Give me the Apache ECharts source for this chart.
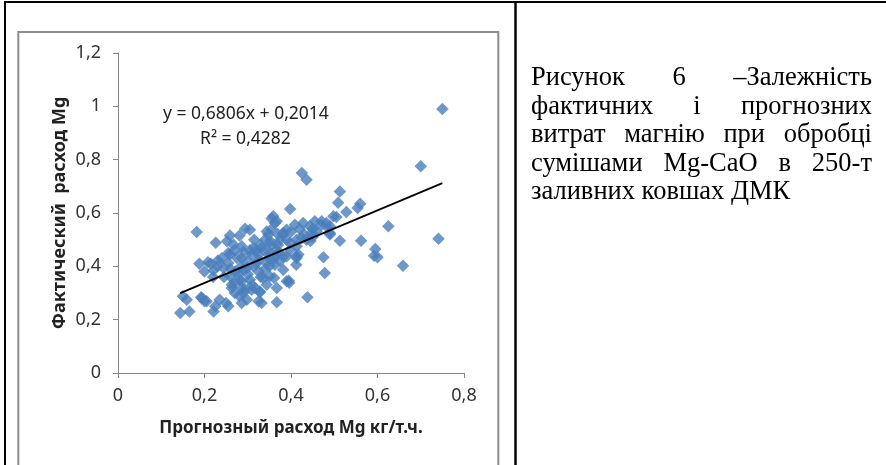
<!DOCTYPE html>
<html>
<head>
<meta charset="utf-8">
<script src="https://cdn.jsdelivr.net/npm/echarts@6/dist/echarts.min.js"></script>
<style>
html,body{margin:0;padding:0;background:#fff;}
#chart{position:absolute;left:0;top:0;width:886px;height:465px;}
#caption{position:absolute;left:531px;top:62px;width:341px;font-family:"Liberation Serif","Times New Roman",serif;font-size:26.5px;line-height:28.5px;color:#000;z-index:5;}
#caption div{text-align:justify;text-align-last:justify;white-space:nowrap;}
#caption div.last{text-align:left;text-align-last:left;}
</style>
</head>
<body>
<div id="chart"></div>
<div id="caption"></div>
<script>
// ---- data ----
const captionLines = [
  "Рисунок 6 –Залежність",
  "фактичних і прогнозних",
  "витрат магнію при обробці",
  "сумішами Mg-CaO в 250-т",
  "заливних ковшах ДМК"
];
const xAxisTitle = "Прогнозный расход Mg кг/т.ч.";
const yAxisTitle = "Фактический  расход Mg";
const equationText = "y = 0,6806x + 0,2014";
const r2Text = "R² = 0,4282";
const trendCoef = [0.6806, 0.2014];   // slope, intercept
const trendRangeX = [0.144, 0.75];
const xTicks = [0, 0.2, 0.4, 0.6, 0.8];
const yTicks = [0, 0.2, 0.4, 0.6, 0.8, 1, 1.2];

// predicted (x) and actual (y) Mg consumption
const predicted = [
  0.75,0.70,0.741,0.659,0.625,0.595,0.592,0.60,0.562,0.56,
  0.554,0.528,0.513,0.509,0.513,0.498,0.505,0.49,0.475,0.478,
  0.438,0.425,0.436,0.398,0.413,0.412,0.395,0.396,0.367,0.332,
  0.328,0.286,0.25,0.235,0.221,0.20,0.192,0.165,0.144,0.15,
  0.159,0.182,0.188,0.226,0.259,0.281,0.294,0.305,0.315,0.355,
  0.363,0.267,0.286,0.208,0.231,0.255,0.20,0.221,0.244,0.255,
  0.275,0.271,0.29,0.313,0.325,0.344,0.352,0.344,0.282,0.305,
  0.263,0.286,0.309,0.328,0.351,0.298,0.325,0.367,0.194,0.205,
  0.225,0.255,0.417,0.361,0.444,0.471,0.482,0.486,0.459,0.428,
  0.409,0.39,0.382,0.413,0.436,0.359,0.375,0.398,0.367,0.382,
  0.359,0.413,0.367,0.348,0.382,0.455,0.425,0.448,0.355,0.332,
  0.313,0.259,0.286,0.309,0.325,0.348,0.371,0.39,0.413,0.398,
  0.344,0.363,0.382,0.298,0.325,0.279,0.259,0.286,0.336,0.344,
  0.39,0.317,0.294,0.263,0.252,0.45,0.47,0.49,0.45,0.445,
  0.49,0.24,0.27,0.30,0.32,0.30,0.27,0.31,0.34,0.36,
  0.37,0.34,0.33,0.29,0.27,0.23,0.22,0.215,0.29,0.355,
  0.39,0.40,0.42,0.43,0.37,0.35,0.32,0.305,0.285,0.26,
  0.245,0.28,0.35,0.375,0.33
];
const actual = [
  0.99,0.775,0.503,0.402,0.55,0.465,0.44,0.434,0.496,0.635,
  0.619,0.604,0.681,0.638,0.496,0.588,0.585,0.519,0.434,0.375,
  0.284,0.75,0.725,0.615,0.4375,0.406,0.346,0.338,0.265,0.2625,
  0.3025,0.2625,0.2625,0.275,0.231,0.269,0.284,0.231,0.225,0.2875,
  0.275,0.529,0.41,0.488,0.516,0.516,0.541,0.5375,0.50,0.579,
  0.5625,0.481,0.475,0.415,0.422,0.4125,0.381,0.385,0.394,0.45,
  0.431,0.381,0.3875,0.40,0.444,0.4625,0.494,0.531,0.35,0.35,
  0.319,0.319,0.3125,0.306,0.3625,0.275,0.269,0.319,0.281,0.269,
  0.25,0.25,0.444,0.356,0.55,0.569,0.5625,0.544,0.531,0.5625,
  0.556,0.5375,0.519,0.50,0.50,0.5875,0.50,0.4875,0.4625,0.4375,
  0.425,0.475,0.569,0.519,0.525,0.569,0.506,0.525,0.481,0.469,
  0.469,0.444,0.431,0.444,0.425,0.444,0.45,0.4375,0.431,0.4625,
  0.4125,0.406,0.3875,0.394,0.381,0.375,0.3625,0.344,0.356,0.331,
  0.344,0.319,0.3125,0.331,0.494,0.54,0.555,0.55,0.51,0.495,
  0.525,0.43,0.46,0.42,0.46,0.37,0.34,0.33,0.39,0.44,
  0.52,0.50,0.48,0.30,0.30,0.40,0.36,0.41,0.455,0.54,
  0.50,0.53,0.54,0.52,0.48,0.43,0.41,0.46,0.40,0.39,
  0.36,0.29,0.40,0.42,0.36
];

// ---- caption ----
const cap = document.getElementById('caption');
captionLines.forEach((t, i) => {
  const d = document.createElement('div');
  d.textContent = t;
  if (i === captionLines.length - 1) d.className = 'last';
  cap.appendChild(d);
});

// ---- chart ----
const fmt = v => String(+v.toFixed(2)).replace('.', ',');
const points = predicted.map((x, i) => [x, actual[i]]);
const trend = trendRangeX.map(x => [x, trendCoef[0] * x + trendCoef[1]]);
const FONT = '"Noto Sans", sans-serif';

const chart = echarts.init(document.getElementById('chart'), null, {renderer: 'canvas'});
chart.setOption({
  animation: false,
  backgroundColor: '#fff',
  grid: {left: 118, right: 422, top: 53, bottom: 92, containLabel: false},
  xAxis: {
    type: 'value', min: xTicks[0], max: xTicks[xTicks.length - 1], interval: 0.2,
    splitLine: {show: false},
    axisLine: {show: true, onZero: false, lineStyle: {color: '#868686', width: 1}},
    axisTick: {show: true, length: 5, lineStyle: {color: '#868686'}},
    axisLabel: {formatter: fmt, color: '#333', fontSize: 18, fontFamily: FONT, margin: 14},
    name: xAxisTitle, nameLocation: 'middle', nameGap: 47,
    nameTextStyle: {color: '#222', fontSize: 17, fontWeight: 'bold', fontFamily: FONT}
  },
  yAxis: {
    type: 'value', min: yTicks[0], max: yTicks[yTicks.length - 1], interval: 0.2,
    splitLine: {show: false},
    axisLine: {show: true, onZero: false, lineStyle: {color: '#868686', width: 1}},
    axisTick: {show: true, length: 5, lineStyle: {color: '#868686'}},
    axisLabel: {formatter: fmt, color: '#333', fontSize: 18, fontFamily: FONT, margin: 17},
    name: yAxisTitle, nameLocation: 'middle', nameGap: 49,
    nameTextStyle: {color: '#222', fontSize: 18, fontWeight: 'bold', fontFamily: FONT}
  },
  series: [
    {
      type: 'scatter', data: points, symbol: 'diamond', symbolSize: 12.5,
      itemStyle: {color: '#4A7EBB'}, z: 2
    },
    {
      type: 'line', data: trend, symbol: 'none', silent: true,
      lineStyle: {color: '#000', width: 1.75}, z: 3
    }
  ],
  graphic: [
    // table borders
    {type: 'line', shape: {x1: 4, y1: 2, x2: 886, y2: 2}, style: {stroke: '#000', lineWidth: 2}, z: 10},
    {type: 'line', shape: {x1: 5, y1: 1, x2: 5, y2: 465}, style: {stroke: '#000', lineWidth: 2}, z: 10},
    {type: 'line', shape: {x1: 515.5, y1: 1, x2: 515.5, y2: 465}, style: {stroke: '#000', lineWidth: 2.5}, z: 10},
    // chart frame
    {type: 'rect', shape: {x: 18.3, y: 32, width: 480, height: 500}, style: {fill: 'none', stroke: '#8c8c8c', lineWidth: 2}, z: 10},
    // trendline equation
    {type: 'text', left: 163, top: 105, style: {text: equationText, font: '17.5px "Noto Sans", sans-serif', fill: '#222'}, z: 10},
    {type: 'text', left: 200, top: 130, style: {text: r2Text, font: '17.5px "Noto Sans", sans-serif', fill: '#222'}, z: 10}
  ]
});
</script>
</body>
</html>
